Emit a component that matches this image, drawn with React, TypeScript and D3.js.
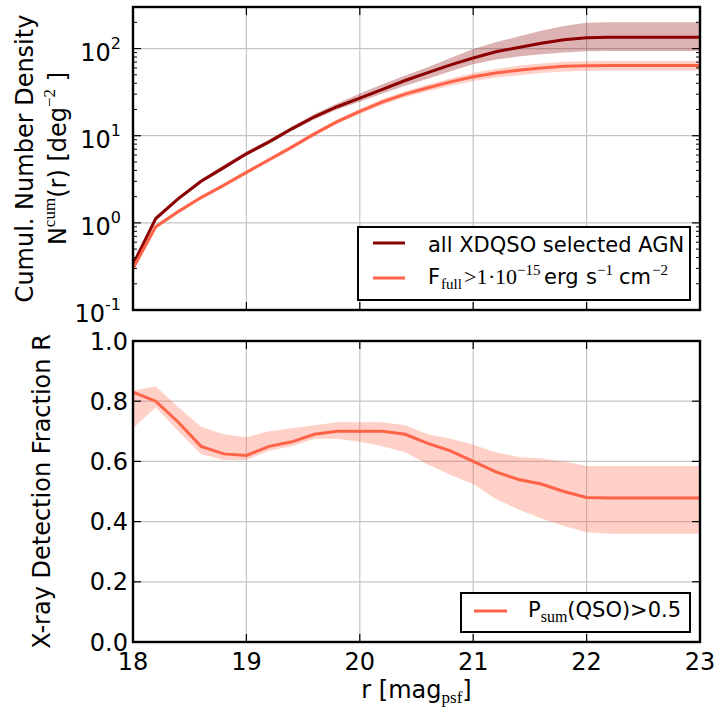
import React from 'react';
import * as d3 from 'd3';

// r magnitude grid (bin edges)
const rMag = [18.0, 18.2, 18.4, 18.6, 18.8, 19.0, 19.2, 19.4, 19.6, 19.8, 20.0, 20.2, 20.4,
  20.6, 20.8, 21.0, 21.2, 21.4, 21.6, 21.8, 22.0, 22.2, 22.4, 22.6, 22.8, 23.0];

// top panel: cumulative number density, all XDQSO selected AGN
const allAgn = [0.33, 1.12, 1.9, 3.0, 4.3, 6.2, 8.5, 12, 16.5, 21.5, 27, 34, 43, 53, 65, 78, 92,
  103, 115, 126, 133, 135, 135, 135, 135, 135];
const allAgnLo = [0.30, 1.05, 1.8, 2.85, 4.1, 5.9, 8.1, 11.3, 15.4, 20, 24.5, 30.5, 37.5, 45, 55,
  66, 75, 81, 86, 90, 93, 94, 94, 94, 94, 94];
const allAgnHi = [0.37, 1.2, 2.0, 3.15, 4.6, 6.6, 9.0, 12.8, 17.8, 23.5, 30.5, 39, 49, 61, 78, 99,
  118, 138, 160, 182, 198, 200, 200, 200, 200, 200];

// top panel: X-ray flux limited subsample
const fluxCut = [0.30, 0.90, 1.35, 1.95, 2.7, 3.8, 5.3, 7.4, 10.5, 14.5, 19, 24.5, 30, 35.5, 41.5,
  47.5, 52.5, 56.5, 60, 62.5, 63.5, 64, 64, 64, 64, 64];
const fluxCutLo = [0.28, 0.85, 1.28, 1.85, 2.55, 3.6, 5.0, 7.0, 9.9, 13.6, 17.7, 22.7, 27.6, 32.4,
  37.5, 42.5, 46.5, 49.5, 52.5, 54.5, 55.5, 56, 56, 56, 56, 56];
const fluxCutHi = [0.32, 0.95, 1.42, 2.05, 2.85, 4.0, 5.6, 7.8, 11.1, 15.4, 20.3, 26.3, 32.4, 38.6,
  45.5, 52.5, 58.5, 63.5, 67.5, 70.5, 71.5, 72, 72, 72, 72, 72];

// bottom panel: X-ray detection fraction
const detFrac = [0.83, 0.80, 0.73, 0.65, 0.625, 0.62, 0.65, 0.665, 0.69, 0.70, 0.70, 0.70, 0.69,
  0.66, 0.635, 0.60, 0.565, 0.54, 0.525, 0.50, 0.48, 0.478, 0.478, 0.478, 0.478, 0.478];
const detFracLo = [0.71, 0.78, 0.70, 0.625, 0.605, 0.605, 0.635, 0.65, 0.675, 0.675, 0.665, 0.65,
  0.63, 0.59, 0.555, 0.525, 0.475, 0.44, 0.41, 0.385, 0.365, 0.36, 0.36, 0.36, 0.36, 0.36];
const detFracHi = [0.835, 0.85, 0.78, 0.715, 0.69, 0.68, 0.70, 0.71, 0.72, 0.73, 0.73, 0.73, 0.72,
  0.69, 0.675, 0.655, 0.63, 0.615, 0.61, 0.60, 0.585, 0.585, 0.585, 0.585, 0.585, 0.585];

const xTicks = [18, 19, 20, 21, 22, 23];
const topMajor = [0.1, 1, 10, 100];
const topExp = ['-1', '0', '1', '2'];
const botTicks = [0.0, 0.2, 0.4, 0.6, 0.8, 1.0];

const DARK = '#8b0000';
const LIGHT = '#ff6347';
const GRID = '#c4c4c4';
const SANS = 'DejaVu Sans';
const SERIF = 'Liberation Serif'; // stands in for the mathtext (Computer Modern) bits

const L = 133, R = 700;
const T1 = 7, B1 = 310;
const T2 = 341, B2 = 642;

export default function App() {
  const x = d3.scaleLinear().domain([18, 23]).range([L, R]);
  const yTop = d3.scaleLog().domain([0.1, 300]).range([B1, T1]);
  const yBot = d3.scaleLinear().domain([0, 1]).range([B2, T2]);

  const lineTop = (v: number[]) =>
    d3.line<number>().x((_, i) => x(rMag[i])).y(d => yTop(d))(v) || '';
  const areaTop = (lo: number[], hi: number[]) =>
    d3.area<number>().x((_, i) => x(rMag[i])).y0((_, i) => yTop(lo[i])).y1(d => yTop(d))(hi) || '';
  const lineBot = d3.line<number>().x((_, i) => x(rMag[i])).y(d => yBot(d))(detFrac) || '';
  const areaBot = d3.area<number>().x((_, i) => x(rMag[i]))
    .y0((_, i) => yBot(detFracLo[i])).y1(d => yBot(d))(detFracHi) || '';

  const minorTop = yTop.ticks().filter(t => !topMajor.some(m => Math.abs(m - t) < 1e-9));

  const xTickMarks = (top: number, bottom: number) =>
    xTicks.slice(1, -1).map(t => (
      <g key={'xt' + top + t}>
        <line x1={x(t)} x2={x(t)} y1={bottom} y2={bottom - 8} stroke="black" strokeWidth={1.2} />
        <line x1={x(t)} x2={x(t)} y1={top} y2={top + 8} stroke="black" strokeWidth={1.2} />
      </g>
    ));

  return (
    <svg width={719} height={711} style={{ position: 'absolute', left: 0, top: 0, background: 'white' }}
      fontFamily={SANS}>
      <defs>
        <clipPath id="c1"><rect x={L} y={T1} width={R - L} height={B1 - T1} /></clipPath>
        <clipPath id="c2"><rect x={L} y={T2} width={R - L} height={B2 - T2} /></clipPath>
      </defs>

      {/* ---------- top panel ---------- */}
      <g>
        {xTicks.slice(1, -1).map(t => (
          <line key={'g1x' + t} x1={x(t)} x2={x(t)} y1={T1} y2={B1} stroke={GRID} strokeWidth={1.2} />
        ))}
        {topMajor.slice(1).map(t => (
          <line key={'g1y' + t} x1={L} x2={R} y1={yTop(t)} y2={yTop(t)} stroke={GRID} strokeWidth={1.2} />
        ))}
        <g clipPath="url(#c1)">
          <path d={areaTop(allAgnLo, allAgnHi)} fill={DARK} fillOpacity={0.3} />
          <path d={areaTop(fluxCutLo, fluxCutHi)} fill={LIGHT} fillOpacity={0.3} />
          <path d={lineTop(allAgn)} fill="none" stroke={DARK} strokeWidth={3} />
          <path d={lineTop(fluxCut)} fill="none" stroke={LIGHT} strokeWidth={3} />
        </g>
        {topMajor.map(t => (
          <g key={'m1' + t}>
            <line x1={L} x2={L + 8} y1={yTop(t)} y2={yTop(t)} stroke="black" strokeWidth={1.2} />
            <line x1={R} x2={R - 8} y1={yTop(t)} y2={yTop(t)} stroke="black" strokeWidth={1.2} />
          </g>
        ))}
        {minorTop.map(t => (
          <g key={'n1' + t}>
            <line x1={L} x2={L + 4} y1={yTop(t)} y2={yTop(t)} stroke="black" strokeWidth={1} />
            <line x1={R} x2={R - 4} y1={yTop(t)} y2={yTop(t)} stroke="black" strokeWidth={1} />
          </g>
        ))}
        {xTickMarks(T1, B1)}
        <rect x={L} y={T1} width={R - L} height={B1 - T1} fill="none" stroke="black" strokeWidth={2.4} />
        {topMajor.map((t, i) => (
          <text key={'l1' + t} x={L - 12} y={yTop(t) + 12} textAnchor="end" fontSize={24}>
            10<tspan fontSize={16} dy={-12}>{topExp[i]}</tspan>
          </text>
        ))}
        <text transform={`translate(33,${(T1 + B1) / 2}) rotate(-90)`} textAnchor="middle" fontSize={24}>
          Cumul. Number Density
        </text>
        <text transform={`translate(66,${(T1 + B1) / 2}) rotate(-90)`} textAnchor="middle" fontSize={24}>
          N<tspan fontFamily={SERIF} fontSize={17} dy={-11}>cum</tspan>
          <tspan dy={11}>(r) [deg</tspan>
          <tspan fontFamily={SERIF} fontSize={17} dy={-11}>−2</tspan>
          <tspan dy={11}> ]</tspan>
        </text>

        {/* legend */}
        <rect x={358} y={227} width={332} height={73} fill="white" stroke="black" strokeWidth={2} />
        <line x1={373} x2={405} y1={243} y2={243} stroke={DARK} strokeWidth={3} />
        <line x1={373} x2={405} y1={278} y2={278} stroke={LIGHT} strokeWidth={3} />
        <text x={428} y={252} fontSize={21}>all XDQSO selected AGN</text>
        <text y={284} fontSize={21}>
          <tspan x={428}>F</tspan>
          <tspan x={441} fontFamily={SERIF} fontSize={15} dy={5}>full</tspan>
          <tspan x={464} fontFamily={SERIF} fontSize={22} dy={-5}>&gt;1</tspan>
          <tspan x={488} fontFamily={SERIF} fontSize={22}>·</tspan>
          <tspan x={495} fontFamily={SERIF} fontSize={22}>10</tspan>
          <tspan x={517} fontFamily={SERIF} fontSize={15} dy={-9}>−15</tspan>
          <tspan x={544} dy={9}>erg</tspan>
          <tspan x={586}>s</tspan>
          <tspan x={597} fontFamily={SERIF} fontSize={15} dy={-9}>−1</tspan>
          <tspan x={619} dy={9}>cm</tspan>
          <tspan x={652} fontFamily={SERIF} fontSize={15} dy={-9}>−2</tspan>
        </text>
      </g>

      {/* ---------- bottom panel ---------- */}
      <g>
        {xTicks.slice(1, -1).map(t => (
          <line key={'g2x' + t} x1={x(t)} x2={x(t)} y1={T2} y2={B2} stroke={GRID} strokeWidth={1.2} />
        ))}
        {botTicks.slice(1, -1).map(t => (
          <line key={'g2y' + t} x1={L} x2={R} y1={yBot(t)} y2={yBot(t)} stroke={GRID} strokeWidth={1.2} />
        ))}
        <g clipPath="url(#c2)">
          <path d={areaBot} fill={LIGHT} fillOpacity={0.3} />
          <path d={lineBot} fill="none" stroke={LIGHT} strokeWidth={3} />
        </g>
        {botTicks.map(t => (
          <g key={'m2' + t}>
            <line x1={L} x2={L + 8} y1={yBot(t)} y2={yBot(t)} stroke="black" strokeWidth={1.2} />
            <line x1={R} x2={R - 8} y1={yBot(t)} y2={yBot(t)} stroke="black" strokeWidth={1.2} />
          </g>
        ))}
        {xTickMarks(T2, B2)}
        <rect x={L} y={T2} width={R - L} height={B2 - T2} fill="none" stroke="black" strokeWidth={2.4} />
        {botTicks.map(t => (
          <text key={'l2' + t} x={L - 5} y={yBot(t) + 8.5} textAnchor="end" fontSize={24}>
            {d3.format('.1f')(t)}
          </text>
        ))}
        {xTicks.map(t => (
          <text key={'lx' + t} x={x(t)} y={670} textAnchor="middle" fontSize={24}>{t}</text>
        ))}
        <text transform={`translate(50,${(T2 + B2) / 2}) rotate(-90)`} textAnchor="middle" fontSize={24}>
          X-ray Detection Fraction R
        </text>
        <text x={(L + R) / 2} y={698} textAnchor="middle" fontSize={24}>
          r [mag<tspan fontFamily={SERIF} fontSize={17} dy={5}>psf</tspan>
          <tspan dy={-5}>]</tspan>
        </text>

        {/* legend */}
        <rect x={461} y={593} width={229} height={39} fill="white" stroke="black" strokeWidth={2} />
        <line x1={474} x2={507} y1={611} y2={611} stroke={LIGHT} strokeWidth={3} />
        <text x={528} y={617} fontSize={21}>
          P<tspan fontFamily={SERIF} fontSize={16} dy={5}>sum</tspan>
          <tspan dy={-5}>(QSO)&gt;0.5</tspan>
        </text>
      </g>
    </svg>
  );
}
